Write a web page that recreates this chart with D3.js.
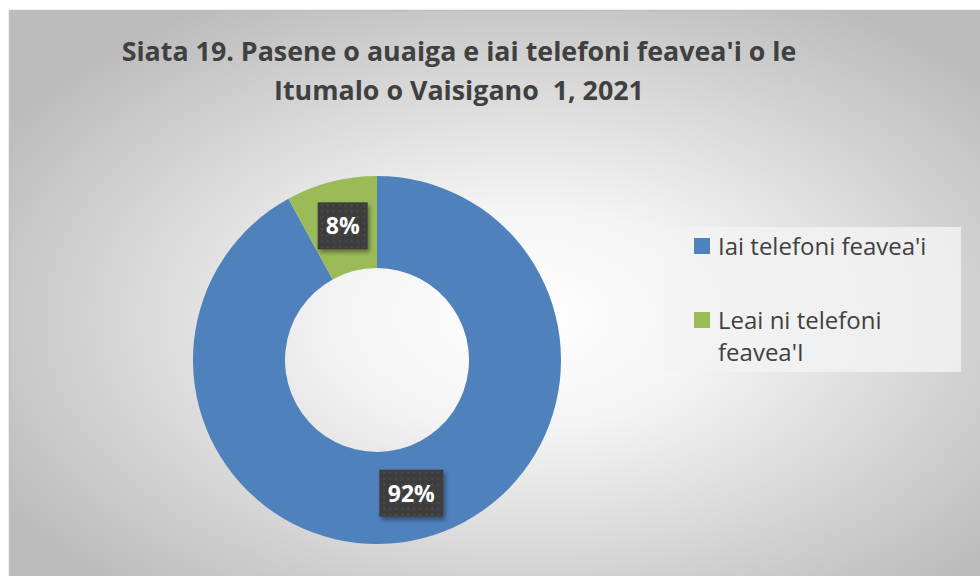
<!DOCTYPE html>
<html>
<head>
<meta charset="utf-8">
<script src="https://cdn.jsdelivr.net/npm/d3@7"></script>
<style>
  body{margin:0;background:#fff;}
  svg{display:block;}
</style>
</head>
<body>
<div id="chart"></div>
<script>
// data
var categories = ["Iai telefoni feavea'i", "Leai ni telefoni feavea'I"]
var values = [92, 8]
var colors = ['#4f81bd', '#9bbb59']
var titleLines = ["Siata 19. Pasene o auaiga e iai telefoni feavea'i o le", "Itumalo o Vaisigano  1, 2021"]

var width = 980, height = 576
var svg = d3.select('#chart').append('svg')
    .attr('width', width)
    .attr('height', height)

var defs = svg.append('defs')

// background gradient
var grad = defs.append('radialGradient')
    .attr('id', 'bg')
    .attr('cx', '52%').attr('cy', '52%').attr('r', '62%')
grad.append('stop').attr('offset', '0%').attr('stop-color', '#ffffff')
grad.append('stop').attr('offset', '30%').attr('stop-color', '#f4f4f4')
grad.append('stop').attr('offset', '100%').attr('stop-color', '#bbbbbb')

// dotted label box pattern
var pat = defs.append('pattern')
    .attr('id', 'dots')
    .attr('width', 6).attr('height', 6)
    .attr('patternUnits', 'userSpaceOnUse')
pat.append('rect').attr('width', 6).attr('height', 6).attr('fill', '#3c3c3c')
pat.append('circle').attr('cx', 3).attr('cy', 3).attr('r', 1).attr('fill', '#525252')

var shadow = defs.append('filter').attr('id', 'shadow')
    .attr('x', '-20%').attr('y', '-20%').attr('width', '150%').attr('height', '150%')
shadow.append('feDropShadow')
    .attr('dx', 2).attr('dy', 3).attr('stdDeviation', 2)
    .attr('flood-color', '#000').attr('flood-opacity', 0.4)

// chart area
svg.append('rect')
    .attr('x', 9.5).attr('y', 10.5)
    .attr('width', 990).attr('height', 590)
    .attr('fill', 'url(#bg)')
    .attr('stroke', '#bfbfbf')
    .attr('stroke-width', 1.5)

// title
svg.append('text')
    .attr('x', 459).attr('y', 61)
    .attr('text-anchor', 'middle')
    .attr('font-family', 'Open Sans, sans-serif')
    .attr('font-weight', 'bold')
    .attr('font-size', 26.8)
    .attr('fill', '#404040')
    .style('white-space', 'pre')
    .selectAll('tspan')
    .data(titleLines)
    .join('tspan')
      .attr('x', 459)
      .attr('dy', (d, i) => i ? 39 : 0)
      .text(d => d)

// donut
var cx = 377, cy = 360
var outerR = 184, innerR = 92
var g = svg.append('g').attr('transform', `translate(${cx},${cy})`)

var pie = d3.pie().sort(null).value(d => d)
var arc = d3.arc().innerRadius(innerR).outerRadius(outerR)
var labelArc = d3.arc().innerRadius(138).outerRadius(138)
var arcs = pie(values)

g.selectAll('path')
  .data(arcs)
  .join('path')
    .attr('d', arc)
    .attr('fill', (d, i) => colors[i])

var labels = g.selectAll('g.lbl')
  .data(arcs)
  .join('g')
    .attr('class', 'lbl')
    .attr('transform', d => `translate(${labelArc.centroid(d)})`)

labels.append('rect')
    .attr('x', d => d.data >= 10 ? -32 : -25)
    .attr('y', -24)
    .attr('width', d => d.data >= 10 ? 64 : 50)
    .attr('height', 47)
    .attr('fill', 'url(#dots)')
    .attr('filter', 'url(#shadow)')

labels.append('text')
    .attr('text-anchor', 'middle')
    .attr('dy', 8)
    .attr('font-family', 'Open Sans, sans-serif')
    .attr('font-weight', 'bold')
    .attr('font-size', 23)
    .attr('fill', '#ffffff')
    .text(d => d.data + '%')

// legend
var legend = svg.append('g')
legend.append('rect')
    .attr('x', 664).attr('y', 227)
    .attr('width', 297).attr('height', 145)
    .attr('fill', '#f2f2f2')
    .attr('opacity', 0.85)

var legendLines = [["Iai telefoni feavea'i"], ["Leai ni telefoni", "feavea'I"]]
var item = legend.selectAll('g.item')
  .data(categories)
  .join('g')
    .attr('class', 'item')
    .attr('transform', (d, i) => `translate(694,${238 + i * 74})`)

item.append('rect')
    .attr('width', 16).attr('height', 16)
    .attr('fill', (d, i) => colors[i])

item.append('text')
    .attr('font-family', 'Open Sans, sans-serif')
    .attr('font-size', 24)
    .attr('fill', '#404040')
    .each(function(d, i) {
      d3.select(this).selectAll('tspan')
        .data(legendLines[i])
        .join('tspan')
          .attr('x', 24)
          .attr('y', (t, j) => 17 + j * 32)
          .text(t => t)
    })
</script>
</body>
</html>
